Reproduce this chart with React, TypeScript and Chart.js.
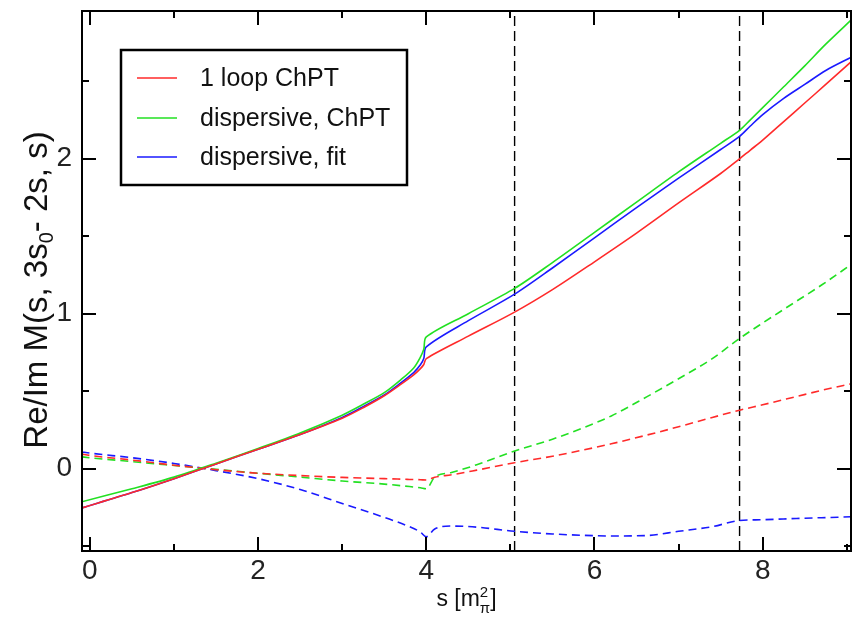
import { useEffect, useRef } from "react";
import { Chart, registerables } from "chart.js";

Chart.register(...registerables);

// ---------- data ----------
const S_SOLID = [-0.1, 0.5, 1.0, 1.5, 2.0, 2.5, 3.0, 3.25, 3.5, 3.7, 3.85, 3.93, 3.97, 4.0, 4.5, 5.05, 5.5, 6.0, 6.5, 7.0, 7.5, 7.725, 7.85, 8.0, 8.25, 8.5, 8.75, 9.07];
const RE_1LOOP = [-0.255, -0.155, -0.065, 0.03, 0.125, 0.22, 0.325, 0.393, 0.47, 0.545, 0.605, 0.645, 0.672, 0.71, 0.855, 1.01, 1.155, 1.335, 1.52, 1.715, 1.905, 2.0, 2.055, 2.12, 2.24, 2.36, 2.48, 2.635];
const RE_DISP_CHPT = [-0.215, -0.13, -0.055, 0.035, 0.13, 0.23, 0.345, 0.415, 0.49, 0.575, 0.65, 0.72, 0.77, 0.85, 1.0, 1.163, 1.33, 1.525, 1.72, 1.915, 2.1, 2.184, 2.25, 2.33, 2.465, 2.6, 2.74, 2.905];
const RE_DISP_FIT = [-0.255, -0.155, -0.065, 0.03, 0.125, 0.22, 0.33, 0.4, 0.475, 0.555, 0.62, 0.67, 0.71, 0.786, 0.955, 1.126, 1.295, 1.49, 1.685, 1.875, 2.06, 2.145, 2.21, 2.285, 2.39, 2.48, 2.57, 2.66];

const S_DASH = [-0.1, 0, 0.5, 1, 1.5, 2, 2.5, 3, 3.5, 3.8, 3.93, 4.0, 4.1, 4.3, 4.6, 5.05, 5.5, 5.83, 6.2, 6.62, 7.0, 7.4, 7.725, 8.0, 8.4, 8.7, 9.07];
const IM_1LOOP = [0.094, 0.085, 0.055, 0.022, -0.007, -0.03, -0.045, -0.057, -0.065, -0.07, -0.072, -0.074, -0.056, -0.04, -0.01, 0.038, 0.08, 0.116, 0.16, 0.216, 0.27, 0.33, 0.377, 0.412, 0.465, 0.505, 0.55];
const IM_DISP_CHPT = [0.076, 0.07, 0.045, 0.02, -0.005, -0.03, -0.055, -0.08, -0.1, -0.116, -0.124, -0.13, -0.055, -0.025, 0.025, 0.113, 0.19, 0.256, 0.34, 0.463, 0.58, 0.71, 0.84, 0.94, 1.08, 1.185, 1.324];
const IM_DISP_FIT = [0.108, 0.1, 0.07, 0.033, -0.013, -0.065, -0.135, -0.225, -0.315, -0.375, -0.41, -0.44, -0.39, -0.371, -0.378, -0.405, -0.422, -0.43, -0.435, -0.432, -0.405, -0.375, -0.335, -0.33, -0.322, -0.317, -0.311];

const THRESHOLDS = [5.05, 7.725];
const SERIES_NAMES = ["1 loop ChPT", "dispersive, ChPT", "dispersive, fit"];

const X_LABEL_TICKS = [0, 2, 4, 6, 8];
const X_MINOR_TICKS = [1, 3, 5, 7, 9];
const Y_LABEL_TICKS = [0, 1, 2];
const Y_MINOR_TICKS = [-0.5, 0.5, 1.5, 2.5];

const X_MIN = -0.094;
const X_MAX = 9.05;
const Y_MIN = -0.532;
const Y_MAX = 2.954;

const RED = "#ff2a2a";
const GREEN = "#22e022";
const BLUE = "#1a1aff";
const FONT = "'Liberation Sans', Arial, Helvetica, sans-serif";

const pts = (xs: number[], ys: number[]) => xs.map((x, i) => ({ x, y: ys[i] }));

const framePlugin = {
  id: "frameTicks",
  afterDatasetsDraw(chart: any) {
    const { ctx, chartArea } = chart;
    const { left, right, top, bottom } = chartArea;
    const xs = chart.scales.x;
    const ys = chart.scales.y;
    ctx.save();
    ctx.strokeStyle = "#000";
    ctx.lineWidth = 2;
    ctx.beginPath();
    const major = 14;
    const minor = 7;
    const xt = (v: number, len: number) => {
      const p = Math.round(xs.getPixelForValue(v));
      ctx.moveTo(p, bottom);
      ctx.lineTo(p, bottom - len);
      ctx.moveTo(p, top);
      ctx.lineTo(p, top + len);
    };
    const yt = (v: number, len: number) => {
      const p = Math.round(ys.getPixelForValue(v));
      ctx.moveTo(left, p);
      ctx.lineTo(left + len, p);
      ctx.moveTo(right, p);
      ctx.lineTo(right - len, p);
    };
    X_LABEL_TICKS.forEach((v) => xt(v, major));
    X_MINOR_TICKS.forEach((v) => xt(v, minor));
    Y_LABEL_TICKS.forEach((v) => yt(v, major));
    Y_MINOR_TICKS.forEach((v) => yt(v, minor));
    ctx.stroke();
    ctx.strokeRect(left, top, right - left, bottom - top);
    ctx.restore();
  },
};

const legendPlugin = {
  id: "boxLegend",
  afterDraw(chart: any) {
    const { ctx } = chart;
    const bx = 121, by = 50, bw = 286, bh = 135;
    ctx.save();
    ctx.fillStyle = "#fff";
    ctx.fillRect(bx, by, bw, bh);
    ctx.strokeStyle = "#000";
    ctx.lineWidth = 2.5;
    ctx.strokeRect(bx, by, bw, bh);
    const rows = [78, 118, 157];
    ctx.font = `25px ${FONT}`;
    ctx.textBaseline = "middle";
    ctx.textAlign = "left";
    for (let i = 0; i < 3; i++) {
      const ds = chart.data.datasets[i];
      ctx.strokeStyle = ds.borderColor;
      ctx.lineWidth = 1.5;
      ctx.beginPath();
      ctx.moveTo(137, rows[i]);
      ctx.lineTo(177, rows[i]);
      ctx.stroke();
      ctx.fillStyle = "#111";
      ctx.fillText(ds.label, 200, rows[i] + 1);
    }
    ctx.restore();
  },
};

const titlesPlugin = {
  id: "axisTitles",
  afterDraw(chart: any) {
    const { ctx, chartArea } = chart;
    ctx.save();
    ctx.fillStyle = "#111";
    ctx.textBaseline = "alphabetic";
    ctx.textAlign = "left";
    // x title: s [m^2_pi]
    const fs = 23;
    const small = 15;
    const a = "s [m";
    const b = "]";
    ctx.font = `${small}px ${FONT}`;
    const wSup = Math.max(ctx.measureText("2").width, ctx.measureText("π").width);
    ctx.font = `${fs}px ${FONT}`;
    const wa = ctx.measureText(a).width;
    const wb = ctx.measureText(b).width;
    const total = wa + wSup + wb;
    const cx = (chartArea.left + chartArea.right) / 2;
    const base = 606;
    const x0 = cx - total / 2;
    ctx.fillText(a, x0, base);
    ctx.font = `${small}px ${FONT}`;
    ctx.fillText("2", x0 + wa, base - 9);
    ctx.fillText("π", x0 + wa, base + 7);
    ctx.font = `${fs}px ${FONT}`;
    ctx.fillText(b, x0 + wa + wSup, base);

    // y title: Re/Im M(s, 3s_0- 2s, s)
    const yfs = 33;
    const ysm = 20;
    const p1 = "Re/Im M(s, 3s";
    const p2 = "0";
    const p3 = "- 2s, s)";
    ctx.font = `${yfs}px ${FONT}`;
    const w1 = ctx.measureText(p1).width;
    const w3 = ctx.measureText(p3).width;
    ctx.font = `${ysm}px ${FONT}`;
    const w2 = ctx.measureText(p2).width;
    const tot = w1 + w2 + w3;
    ctx.translate(47, 290);
    ctx.rotate(-Math.PI / 2);
    const s0 = -tot / 2;
    ctx.font = `${yfs}px ${FONT}`;
    ctx.fillText(p1, s0, 0);
    ctx.font = `${ysm}px ${FONT}`;
    ctx.fillText(p2, s0 + w1, 6);
    ctx.font = `${yfs}px ${FONT}`;
    ctx.fillText(p3, s0 + w1 + w2, 0);
    ctx.restore();
  },
};

export default function App() {
  const ref = useRef<HTMLCanvasElement | null>(null);
  useEffect(() => {
    if (!ref.current) return;
    const solid = (label: string, ys: number[], color: string) => ({
      label,
      data: pts(S_SOLID, ys),
      borderColor: color,
      backgroundColor: color,
      borderWidth: 1.6,
      pointRadius: 0,
      tension: 0.3,
      fill: false,
    });
    const dashed = (label: string, ys: number[], color: string) => ({
      label,
      data: pts(S_DASH, ys),
      borderColor: color,
      backgroundColor: color,
      borderWidth: 1.6,
      borderDash: [8, 5],
      pointRadius: 0,
      cubicInterpolationMode: "monotone" as const,
      fill: false,
    });
    const thr = THRESHOLDS.map((t) => ({
      label: "threshold",
      data: [
        { x: t, y: Y_MIN },
        { x: t, y: Y_MAX },
      ],
      borderColor: "#000",
      borderWidth: 1.4,
      borderDash: [10, 5],
      pointRadius: 0,
      fill: false,
    }));
    const chart = new Chart(ref.current, {
      type: "line",
      data: {
        datasets: [
          solid(SERIES_NAMES[0], RE_1LOOP, RED),
          solid(SERIES_NAMES[1], RE_DISP_CHPT, GREEN),
          solid(SERIES_NAMES[2], RE_DISP_FIT, BLUE),
          dashed(SERIES_NAMES[0] + " (Im)", IM_1LOOP, RED),
          dashed(SERIES_NAMES[1] + " (Im)", IM_DISP_CHPT, GREEN),
          dashed(SERIES_NAMES[2] + " (Im)", IM_DISP_FIT, BLUE),
          ...thr,
        ] as any,
      },
      options: {
        animation: false,
        responsive: false,
        maintainAspectRatio: false,
        layout: { padding: { top: 11, right: 1, left: 0, bottom: 0 } },
        plugins: { legend: { display: false }, tooltip: { enabled: false } },
        scales: {
          x: {
            type: "linear",
            min: X_MIN,
            max: X_MAX,
            afterBuildTicks: (s: any) => {
              s.ticks = X_LABEL_TICKS.map((v) => ({ value: v }));
            },
            afterFit: (s: any) => {
              s.height = 66;
              s.paddingLeft = 0;
              s.paddingRight = 0;
            },
            ticks: {
              autoSkip: false,
              maxRotation: 0,
              padding: 3,
              color: "#222",
              font: { family: FONT, size: 28 },
              callback: (v: any) => String(v),
            },
            grid: { display: false, drawTicks: false },
            border: { display: false },
          },
          y: {
            type: "linear",
            min: Y_MIN,
            max: Y_MAX,
            afterBuildTicks: (s: any) => {
              s.ticks = Y_LABEL_TICKS.map((v) => ({ value: v }));
            },
            afterFit: (s: any) => {
              s.width = 82;
              s.paddingTop = 0;
              s.paddingBottom = 0;
            },
            ticks: {
              autoSkip: false,
              padding: 10,
              color: "#222",
              font: { family: FONT, size: 28 },
              callback: (v: any) => String(v),
            },
            grid: { display: false, drawTicks: false },
            border: { display: false },
          },
        },
      } as any,
      plugins: [framePlugin, legendPlugin, titlesPlugin],
    });
    return () => chart.destroy();
  }, []);
  return (
    <div style={{ position: "fixed", left: 0, top: 0, width: 852, height: 617, background: "#fff" }}>
      <canvas ref={ref} width={852} height={617} style={{ display: "block" }} />
    </div>
  );
}
